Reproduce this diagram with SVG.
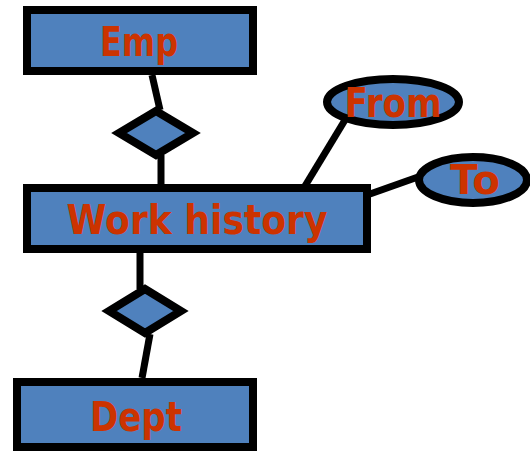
<svg xmlns="http://www.w3.org/2000/svg" width="530" height="451" viewBox="0 0 530 451">
  <style>
    .shape { fill: #4F81BD; stroke: #000; stroke-width: 8; }
    .link { stroke: #000; stroke-width: 7; fill: none; }
    .label { font-family: "DejaVu Sans", "Liberation Sans", sans-serif; font-weight: bold; font-size: 41px; fill: #CC3300; text-anchor: middle; }
  </style>
  <rect width="530" height="451" fill="#fff"/>
  <g id="connectors">
    <line class="link" x1="152" y1="75" x2="160" y2="110"/>
    <line class="link" x1="161" y1="155" x2="161" y2="184"/>
    <line class="link" x1="140" y1="253" x2="140" y2="289"/>
    <line class="link" x1="150" y1="334" x2="142" y2="378"/>
    <line class="link" x1="345" y1="120" x2="305" y2="186"/>
    <line class="link" x1="418" y1="177" x2="370" y2="194"/>
  </g>
  <g id="emp">
    <rect class="shape" x="27" y="10" width="226" height="61"/>
    <text class="label" x="139" y="56" textLength="78" lengthAdjust="spacingAndGlyphs">Emp</text>
  </g>
  <g id="rel-emp">
    <polygon class="shape" points="156,111 193,133 156,155 119,133"/>
  </g>
  <g id="work-history">
    <rect class="shape" x="27" y="188" width="340" height="61"/>
    <text class="label" x="197" y="234" textLength="261" lengthAdjust="spacingAndGlyphs">Work history</text>
  </g>
  <g id="rel-dept">
    <polygon class="shape" points="145,289 181,311 145,333 109,311"/>
  </g>
  <g id="dept">
    <rect class="shape" x="17" y="382" width="236" height="65"/>
    <text class="label" x="136" y="431" textLength="92" lengthAdjust="spacingAndGlyphs">Dept</text>
  </g>
  <g id="from">
    <ellipse class="shape" cx="393" cy="102" rx="66" ry="23"/>
    <text class="label" x="393" y="117" textLength="97" lengthAdjust="spacingAndGlyphs">From</text>
  </g>
  <g id="to">
    <ellipse class="shape" cx="473" cy="180" rx="54" ry="23"/>
    <text class="label" x="475" y="194" textLength="50" lengthAdjust="spacingAndGlyphs">To</text>
  </g>
</svg>
